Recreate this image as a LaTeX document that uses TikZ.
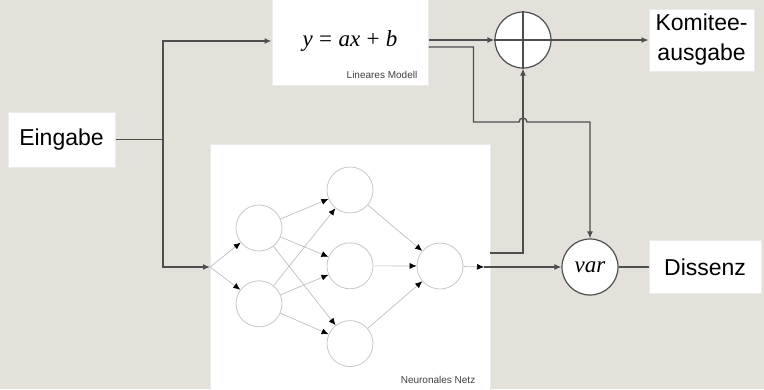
\documentclass[tikz,border=0pt]{standalone}
\usepackage{fontspec}
\setmainfont{Liberation Sans}
\newfontfamily\formfont{Liberation Serif}
\usetikzlibrary{arrows.meta,positioning}
\definecolor{paper}{HTML}{E4E1DB}
\definecolor{wiregray}{HTML}{4E4E4E}
\newcommand{\mvar}[1]{{\formfont\itshape #1}}
\tikzset{
    blockbox/.style={rectangle,fill=white,draw=black!8,line width=1pt,inner sep=0pt,align=center,font=\fontsize{23}{30}\selectfont},
    smalllabel/.style={inner sep=0pt,font=\fontsize{10}{12}\selectfont,text=black!75},
    opnode/.style={circle,fill=white,draw=wiregray,line width=1.2pt,minimum size=56pt,inner sep=0pt,font=\fontsize{23}{28}\selectfont},
    neuron/.style={circle,draw=black!22,line width=0.8pt,minimum size=46pt,inner sep=0pt},
    wire/.style={draw=wiregray,line width=1.4pt,-{Latex[length=7pt,width=6pt]}},
    plainwire/.style={draw=wiregray,line width=1.4pt},
    nnline/.style={draw=black!25,line width=0.7pt,-{Latex[length=7pt,width=6pt,fill=black,color=black]}}
}
\begin{document}
\begin{tikzpicture}[x=1pt,y=-1pt]
    \useasboundingbox[fill=paper] (0,0) rectangle (764,389);
    % blocks
    \node[blockbox,minimum width=107pt,minimum height=55pt] (in) at (61.5,139.5) {Eingabe};
    \node[blockbox,minimum width=156pt,minimum height=88pt] (lm) at (350,41) {\mvar{y} {\formfont =} \mvar{ax} {\formfont +} \mvar{b}};
    \node[smalllabel,anchor=south east] (lmlabel) at ([shift={(-11pt,7pt)}]lm.south east) {Lineares Modell};
    \node[blockbox,minimum width=280pt,minimum height=248pt] (nn) at (350,268) {};
    \node[smalllabel,anchor=south east] (nnlabel) at ([shift={(-15pt,9pt)}]nn.south east) {Neuronales Netz};
    \node[opnode] (plus) at (523,40) {};
    \draw[wiregray,line width=1.2pt] (plus.north) -- (plus.south) (plus.west) -- (plus.east);
    \node[blockbox,minimum width=105pt,minimum height=62pt,right=97pt of plus] (out) {Komitee-\\ausgabe};
    \node[opnode] (var) at (590,267) {\mvar{var}};
    \node[blockbox,minimum width=112pt,minimum height=53pt,right=30pt of var] (dis) {Dissenz};
    % neurons
    \node[neuron] (h11) at (259,228) {};
    \node[neuron,below=29pt of h11] (h12) {};
    \node[neuron] (h21) at (350,190) {};
    \node[neuron,below=29pt of h21] (h22) {};
    \node[neuron,below=31pt of h22] (h23) {};
    \node[neuron] (o1) at (440,266) {};
    % helper points
    \coordinate (fork) at (163,139.5);
    \coordinate (nnin) at (210,267);
    \coordinate (nnout) at (484,267);
    \coordinate (nnbr) at (490,253);
    \coordinate (hop) at (523,122);
    % net
    \draw[nnline] (nnin) -- (h11);
    \draw[nnline] (nnin) -- (h12);
    \foreach \a in {h11,h12}
        \foreach \b in {h21,h22,h23}
            \draw[nnline] (\a) -- (\b);
    \foreach \b in {h21,h22,h23}
        \draw[nnline] (\b) -- (o1);
    \draw[nnline] (o1) -- (nnout);
    % signal lines
    \draw[plainwire] (in) -- (fork);
    \draw[wire] (fork) |- (lm.west);
    \draw[wire] (fork) |- (nnin);
    \draw[wire] (lm.east |- plus.west) -- (plus.west);
    \draw[wire] ([yshift=-6pt]lm.east) -- ++(45,0) |- ([xshift=-4pt]hop) arc[start angle=180,end angle=0,radius=4pt] -| (var.north);
    \draw[wire] (nnbr) -| (plus.south);
    \draw[wire] (plus.east) -- (out.west);
    \draw[wire,line width=2pt] (nnout) -- (var.west);
    \draw[plainwire] (var.east) -- (dis.west);
\end{tikzpicture}
\end{document}
